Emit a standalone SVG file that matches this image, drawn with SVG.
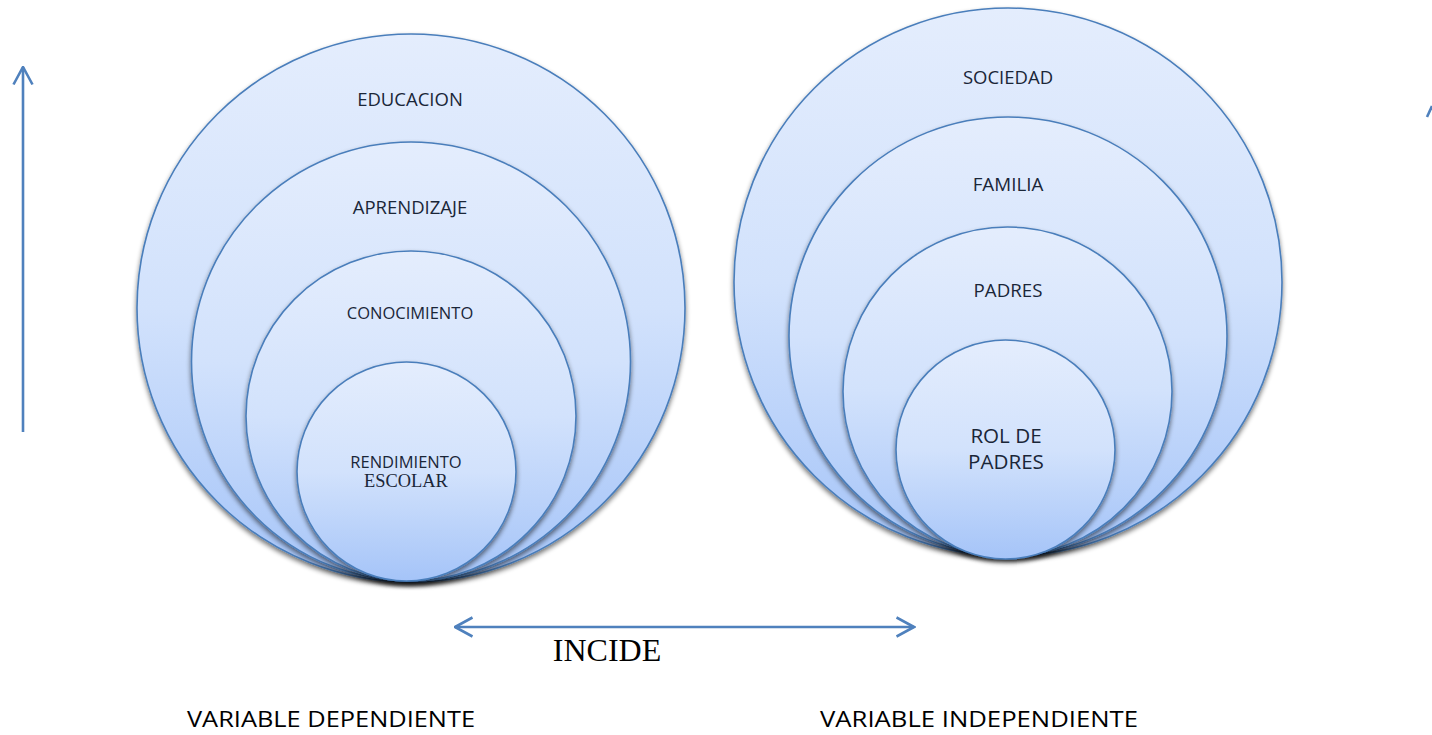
<svg xmlns="http://www.w3.org/2000/svg" width="1432" height="735" viewBox="0 0 1432 735">
<style>
.c{fill:url(#g);stroke:#4a7ebb;stroke-width:1.6;filter:url(#sh)}
.t{font-family:"Open Sans","Liberation Sans",sans-serif;fill:#1a2638;text-anchor:middle}
.ln{stroke:#4f81bd;stroke-width:2.6;fill:none}
.lb{font-family:"Open Sans","Liberation Sans",sans-serif;fill:#000;font-size:21px;text-anchor:middle}
</style>
<defs>
<linearGradient id="g" x1="0" y1="0" x2="0" y2="1">
<stop offset="0" stop-color="#e4edfd"/>
<stop offset="0.5" stop-color="#d2e2fc"/>
<stop offset="1" stop-color="#a5c4f8"/>
</linearGradient>
<filter id="sh" x="-10%" y="-10%" width="120%" height="125%">
<feGaussianBlur in="SourceAlpha" stdDeviation="2.5"/>
<feOffset dy="3" result="b"/>
<feComponentTransfer><feFuncA type="linear" slope="0.55"/></feComponentTransfer>
<feMerge><feMergeNode/><feMergeNode in="SourceGraphic"/></feMerge>
</filter>
<marker id="ah" viewBox="0 0 20 22" refX="18.5" refY="11" markerWidth="20" markerHeight="22" markerUnits="userSpaceOnUse" orient="auto-start-reverse">
<path d="M1,1.5 L18.5,11 L1,20.5" fill="none" stroke="#4f81bd" stroke-width="2.6"/>
</marker>
</defs>
<g id="educacion"><circle class="c" cx="411" cy="308" r="274"/><text class="t" x="410" y="106" font-size="18.5">EDUCACION</text></g>
<g id="aprendizaje"><circle class="c" cx="411" cy="361.5" r="219.5"/><text class="t" x="410" y="214" font-size="18.5">APRENDIZAJE</text></g>
<g id="conocimiento"><circle class="c" cx="411" cy="416" r="165"/><text class="t" x="410" y="319" font-size="16.5">CONOCIMIENTO</text></g>
<g id="rendimiento"><circle class="c" cx="406.5" cy="471.5" r="109.5"/><text class="t" x="406" y="468" font-size="16.5">RENDIMIENTO</text><text x="406" y="487" font-size="18.4" font-family="Liberation Serif,serif" fill="#1a2638" text-anchor="middle">ESCOLAR</text></g>
<g id="sociedad"><circle class="c" cx="1008" cy="282" r="274"/><text class="t" x="1008" y="84" font-size="18.5">SOCIEDAD</text></g>
<g id="familia"><circle class="c" cx="1008" cy="336" r="219"/><text class="t" x="1008" y="191" font-size="18.8">FAMILIA</text></g>
<g id="padres"><circle class="c" cx="1007.5" cy="391.5" r="164.5"/><text class="t" x="1008" y="297" font-size="18.7">PADRES</text></g>
<g id="rol"><circle class="c" cx="1005.5" cy="449.5" r="109.5"/><text class="t" x="1006" y="443" font-size="20.6">ROL DE</text><text class="t" x="1006" y="469" font-size="20.6">PADRES</text></g>
<g id="connectors">
<line class="ln" x1="23" y1="432" x2="23" y2="67" marker-end="url(#ah)"/>
<line class="ln" x1="455" y1="627" x2="914" y2="627" marker-start="url(#ah)" marker-end="url(#ah)"/>
<line class="ln" x1="1427" y1="117" x2="1432" y2="106"/>
</g>
<text x="607" y="661" font-size="32" font-family="Liberation Serif,serif" text-anchor="middle" fill="#000">INCIDE</text>
<text class="lb" x="331" y="727" textLength="288" lengthAdjust="spacingAndGlyphs">VARIABLE DEPENDIENTE</text>
<text class="lb" x="979" y="727" textLength="318" lengthAdjust="spacingAndGlyphs">VARIABLE INDEPENDIENTE</text>
</svg>
